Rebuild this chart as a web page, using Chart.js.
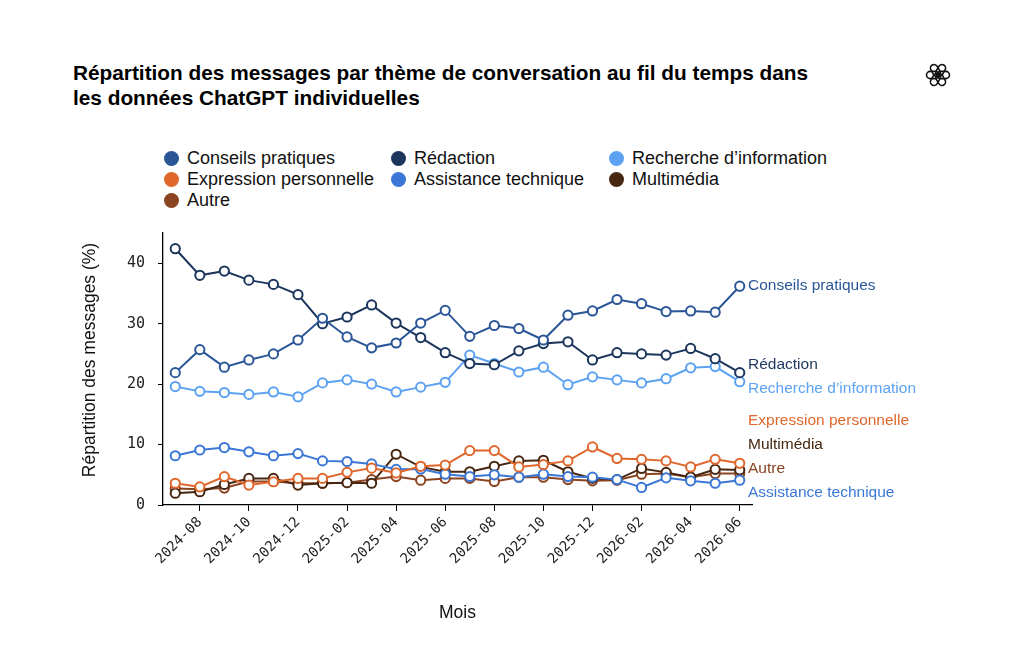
<!DOCTYPE html>
<html>
<head>
<meta charset="utf-8">
<script src="https://cdn.jsdelivr.net/npm/chart.js@4"></script>
<style>
  body { margin: 0; background: #fff; font-family: "Liberation Sans", Arial, sans-serif; }
  #wrap { position: relative; width: 1024px; height: 662px; overflow: hidden; }
  #title { position: absolute; left: 73px; top: 60px; font-size: 20.8px; font-weight: bold; line-height: 25px; color: #000; }
  #logo { position: absolute; left: 924px; top: 61px; }
  #legend { position: absolute; left: 0; top: 0; }
  .item { position: absolute; display: flex; align-items: center; font-size: 18px; color: #111; white-space: nowrap; }
  .dot { width: 15px; height: 15px; border-radius: 50%; margin-right: 8px; }
  canvas { position: absolute; left: 0; top: 0; }
</style>
</head>
<body>
<div id="wrap">
  <div id="title">Répartition des messages par thème de conversation au fil du temps dans<br>les données ChatGPT individuelles</div>
  <svg id="logo" width="28" height="28" viewBox="-14 -14 28 28"></svg>
  <div id="legend"></div>
  <canvas id="myChart" width="1024" height="662"></canvas>
</div>
<script>
// months on the x axis
let months = ['2024-07', '2024-08', '2024-09', '2024-10', '2024-11', '2024-12',
  '2025-01', '2025-02', '2025-03', '2025-04', '2025-05', '2025-06',
  '2025-07', '2025-08', '2025-09', '2025-10', '2025-11', '2025-12',
  '2026-01', '2026-02', '2026-03', '2026-04', '2026-05', '2026-06']

// share of messages (%) per theme
let conseils = [21.9, 25.7, 22.8, 24.0, 25.0, 27.3, 30.9, 27.8, 26.0, 26.8, 30.1, 32.2, 27.9, 29.7, 29.2, 27.3, 31.4, 32.1, 34.0, 33.3, 32.0, 32.1, 31.9, 36.2]
let redaction = [42.4, 38.0, 38.7, 37.2, 36.5, 34.8, 30.0, 31.1, 33.1, 30.1, 27.7, 25.2, 23.4, 23.2, 25.5, 26.7, 27.0, 24.0, 25.2, 25.0, 24.8, 25.9, 24.2, 21.9]
let recherche = [19.6, 18.8, 18.6, 18.3, 18.7, 17.9, 20.2, 20.7, 20.0, 18.7, 19.5, 20.3, 24.8, 23.4, 22.0, 22.8, 19.9, 21.2, 20.7, 20.2, 20.9, 22.7, 22.9, 20.4]
let expression = [3.6, 3.0, 4.7, 3.3, 3.85, 4.4, 4.4, 5.4, 6.1, 5.3, 6.4, 6.6, 9.0, 9.0, 6.3, 6.7, 7.3, 9.6, 7.7, 7.55, 7.3, 6.3, 7.55, 6.9]
let assistance = [8.15, 9.1, 9.5, 8.8, 8.15, 8.5, 7.3, 7.2, 6.8, 5.9, 5.95, 5.1, 4.7, 5.0, 4.6, 5.1, 4.7, 4.6, 4.2, 2.9, 4.5, 4.0, 3.6, 4.1]
let multimedia = [1.95, 2.2, 3.4, 4.4, 4.4, 3.3, 3.6, 3.7, 3.6, 8.4, 6.3, 5.5, 5.5, 6.4, 7.3, 7.4, 5.5, 4.4, 4.2, 6.05, 5.4, 4.6, 5.9, 5.8]
let autre = [2.75, 2.6, 2.8, 3.9, 3.9, 3.6, 3.6, 3.7, 4.2, 4.7, 4.1, 4.4, 4.4, 3.9, 4.6, 4.6, 4.2, 4.0, 4.1, 5.1, 5.2, 4.6, 5.2, 5.2]

let seriesNames = ['Conseils pratiques', 'Rédaction', 'Recherche d\u2019information',
  'Expression personnelle', 'Assistance technique', 'Multimédia', 'Autre']
let seriesValues = [conseils, redaction, recherche, expression, assistance, multimedia, autre]
let seriesColors = ['#2a5698', '#1b355c', '#5da2f2', '#e0672c', '#3a77d6', '#472711', '#8b4422']

// y ticks
let yTicks = [0, 10, 20, 30, 40]

let sansFont = '"Liberation Sans", Arial, sans-serif'
let monoFont = '"DejaVu Sans Mono", monospace'

// openai-ish logo
let logo = document.getElementById('logo')
for (let k = 0; k < 6; k++) {
  let r = document.createElementNS('http://www.w3.org/2000/svg', 'rect')
  r.setAttribute('x', -3.6); r.setAttribute('y', -11.5)
  r.setAttribute('width', 7.2); r.setAttribute('height', 12.5); r.setAttribute('rx', 3.6)
  r.setAttribute('transform', 'rotate(' + (k * 60 + 30) + ')')
  r.setAttribute('fill', 'none'); r.setAttribute('stroke', '#111'); r.setAttribute('stroke-width', 1.6)
  logo.appendChild(r)
}

// html legend, 3 columns
let colX = [164, 391, 609]
let rowY = [158, 179, 200]
seriesNames.forEach((name, i) => {
  let el = document.createElement('div')
  el.className = 'item'
  el.style.left = colX[i % 3] + 'px'
  el.style.top = (rowY[Math.floor(i / 3)] - 10) + 'px'
  el.style.height = '20px'
  el.innerHTML = `<span class="dot" style="background:${seriesColors[i]}"></span><span>${name}</span>`
  document.getElementById('legend').appendChild(el)
})

// labels at the end of each line, spread apart so they don't collide
const endLabels = {
  id: 'endLabels',
  afterDatasetsDraw(chart) {
    let ctx = chart.ctx
    let area = chart.chartArea
    let yScale = chart.scales.y
    let gap = 24
    let items = chart.data.datasets.map((ds, i) => ({
      text: ds.label, color: ds.borderColor,
      y: yScale.getPixelForValue(ds.data[ds.data.length - 1])
    }))
    items.sort((a, b) => a.y - b.y)
    let clusters = items.map(it => ({ items: [it], top: it.y }))
    let merged = true
    while (merged) {
      merged = false
      for (let i = 0; i < clusters.length - 1; i++) {
        let a = clusters[i], b = clusters[i + 1]
        let aEnd = a.top + (a.items.length - 1) * gap
        if (b.top - aEnd < gap) {
          let all = a.items.concat(b.items)
          let mean = all.reduce((s, it) => s + it.y, 0) / all.length
          clusters.splice(i, 2, { items: all, top: mean - (all.length - 1) * gap / 2 })
          merged = true
          break
        }
      }
    }
    let maxY = area.bottom - 12
    ctx.save()
    ctx.font = '15.5px ' + sansFont
    ctx.textBaseline = 'middle'
    ctx.textAlign = 'left'
    clusters.forEach(c => {
      let end = c.top + (c.items.length - 1) * gap
      if (end > maxY) c.top -= end - maxY
      c.items.forEach((it, j) => {
        ctx.fillStyle = it.color
        ctx.fillText(it.text, area.right - 4, c.top + j * gap)
      })
    })
    ctx.restore()
  }
}

// rotated y axis title
const yTitle = {
  id: 'yTitle',
  afterDraw(chart) {
    let ctx = chart.ctx
    ctx.save()
    ctx.translate(90, 360)
    ctx.rotate(-Math.PI / 2)
    ctx.font = '17.5px ' + sansFont
    ctx.fillStyle = '#111'
    ctx.textAlign = 'center'
    ctx.textBaseline = 'middle'
    ctx.fillText('Répartition des messages (%)', 0, 0)
    ctx.restore()
  }
}

let canvas = document.getElementById('myChart')
let chartCtx = canvas.getContext('2d')

let myLineChart = new Chart(chartCtx, {
  type: 'line',
  data: {
    labels: months,
    datasets: seriesNames.map((name, i) => ({
      label: name,
      data: seriesValues[i],
      borderColor: seriesColors[i],
      backgroundColor: '#ffffff',
      pointBackgroundColor: '#ffffff',
      pointBorderColor: seriesColors[i],
      pointRadius: 4.6,
      pointBorderWidth: 2,
      borderWidth: 2,
      tension: 0,
      fill: false
    }))
  },
  plugins: [endLabels, yTitle],
  options: {
    responsive: false,
    animation: false,
    layout: { padding: { left: 75, right: 272, top: 233, bottom: 30 } },
    plugins: { legend: { display: false }, tooltip: { enabled: false } },
    scales: {
      x: {
        offset: true,
        grid: { drawOnChartArea: false, tickLength: 6, color: '#000', offset: false },
        border: { color: '#000', width: 1.3 },
        ticks: {
          autoSkip: false, maxRotation: 45, minRotation: 45,
          color: '#222', font: { size: 14, family: monoFont },
          callback: function (v, i) { return i % 2 == 1 ? months[i] : null }
        },
        title: {
          display: true, text: 'Mois', color: '#111',
          font: { size: 17.5, family: sansFont },
          padding: { top: 4, bottom: 8 }
        },
        afterFit: (scale) => { scale.height = 662 - 30 - 505 }
      },
      y: {
        min: 0, max: 45,
        grid: { drawOnChartArea: false, tickLength: 5, color: '#000' },
        border: { color: '#000', width: 1.3 },
        afterBuildTicks: (scale) => { scale.ticks = yTicks.map(v => ({ value: v })) },
        ticks: {
          padding: 13, color: '#222',
          font: { size: 15, family: monoFont }
        },
        title: { display: false },
        afterFit: (scale) => { scale.width = 88 }
      }
    }
  }
})
</script>
</body>
</html>
